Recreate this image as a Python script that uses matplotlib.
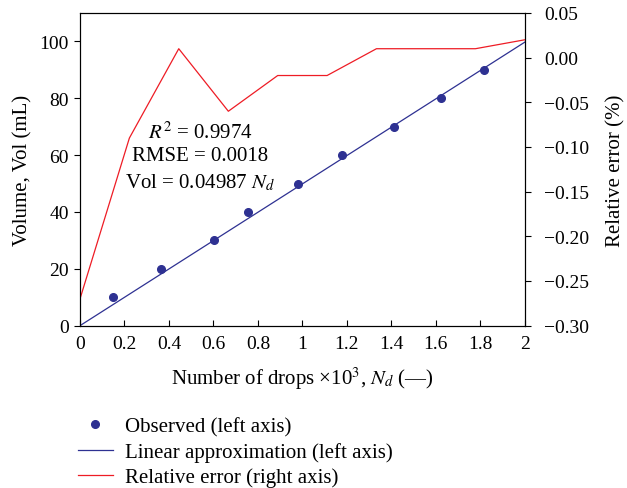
import numpy as np
import matplotlib
matplotlib.use("Agg")
from matplotlib import pyplot as plt
from matplotlib.ticker import FuncFormatter, MultipleLocator

# observed volumes vs number of drops (x10^3)
obs_x = [0.147, 0.364, 0.602, 0.754, 0.978, 1.176, 1.411, 1.622, 1.817]
obs_vol = [10, 20, 30, 40, 50, 60, 70, 80, 90]

# linear fit Vol = 0.04987 Nd (Nd in drops -> x10^3 on axis)
fit_slope = 0.04987
fit_x = [0.0, 2.0]

# relative error (right axis)
err_x = [0.0, 0.222, 0.444, 0.667, 0.889, 1.111, 1.333, 1.556, 1.778, 2.0]
err_val = [-0.27, -0.09, 0.01, -0.06, -0.02, -0.02, 0.01, 0.01, 0.01, 0.02]

blue = "#2e3192"
red = "#ee1c25"
fs = 14
fs_txt = 15

plt.rcParams["font.family"] = ["Liberation Serif", "DejaVu Serif"]
plt.rcParams["mathtext.fontset"] = "stix"
plt.rcParams["axes.unicode_minus"] = True

fig = plt.figure(figsize=(6.27, 4.89), dpi=100)
ax = fig.add_axes([0.1276, 0.332, 0.7094, 0.6394])
ax2 = ax.twinx()

fit_y = [fit_slope * 1000 * x for x in fit_x]
ax.plot(obs_x, obs_vol, "o", color=blue, markersize=5.5, label="Observed (left axis)")
ax.plot(fit_x, fit_y, "-", color=blue, linewidth=0.9,
        label="Linear approximation (left axis)")
ax2.plot(err_x, err_val, "-", color=red, linewidth=0.9,
         label="Relative error (right axis)")

ax.set_xlim(0, 2)
ax.set_ylim(0, 110)
ax2.set_ylim(-0.30, 0.05)

ax.xaxis.set_major_locator(MultipleLocator(0.2))
ax.set_yticks([0, 20, 40, 60, 80, 100])
ax2.yaxis.set_major_locator(MultipleLocator(0.05))

ax.xaxis.set_major_formatter(FuncFormatter(lambda v, p: f"{v:g}"))
ax2.yaxis.set_major_formatter(
    FuncFormatter(lambda v, p: f"{v:.2f}".replace("-", "\u2212").replace("\u22120.00", "0.00")))

ax.tick_params(axis="x", direction="in", length=4, width=0.8, labelsize=fs, pad=7)
ax.tick_params(axis="y", direction="out", length=4, width=0.8, labelsize=fs, pad=4)
ax2.tick_params(axis="y", direction="out", length=4, width=0.8, labelsize=fs, pad=10)

ax.set_xlabel("Number of drops ×10$^3$, $N_d$ (—)", fontsize=fs_txt, labelpad=9)
ax.set_ylabel("Volume, Vol (mL)", fontsize=fs_txt, labelpad=5)
ax2.set_ylabel("Relative error (%)", fontsize=fs_txt, labelpad=12)

ax.text(0.54, 68.2, "$R^2$ = 0.9974", ha="center", va="center", fontsize=fs_txt)
ax.text(0.54, 59.7, "RMSE = 0.0018", ha="center", va="center", fontsize=fs_txt)
ax.text(0.54, 50.6, "Vol = 0.04987 $N_d$", ha="center", va="center", fontsize=fs_txt)

h1, l1 = ax.get_legend_handles_labels()
h2, l2 = ax2.get_legend_handles_labels()
fig.legend(h1 + h2, l1 + l2, loc="center left", bbox_to_anchor=(0.107, 0.0736),
           frameon=False, fontsize=fs_txt, borderpad=0, handlelength=1.7,
           handletextpad=0.6, labelspacing=0.28)

fig.savefig("out.png", dpi=100)
